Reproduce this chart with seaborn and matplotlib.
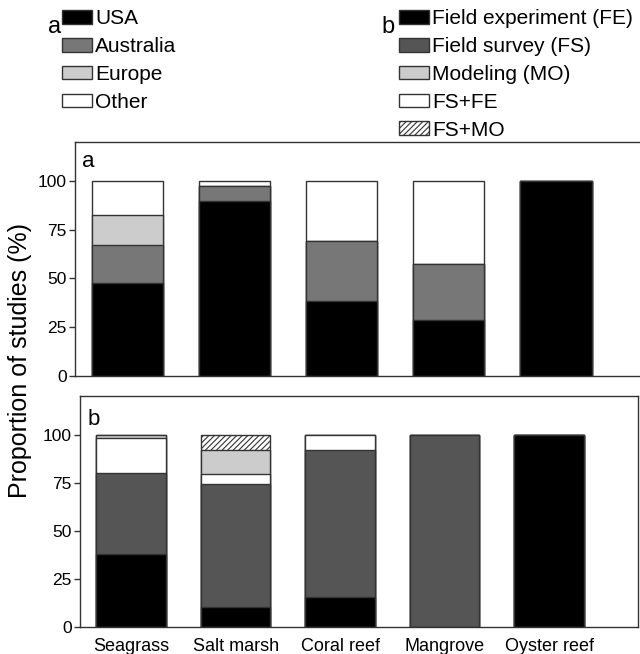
import numpy as np
import pandas as pd
import matplotlib
matplotlib.use("Agg")
import matplotlib.pyplot as plt
import seaborn as sns
from matplotlib.patches import Patch

# ---------------- data ----------------
habitats = ["Seagrass", "Salt marsh", "Coral reef", "Mangrove", "Oyster reef"]

# panel a: study region (%)
region_labels = ["USA", "Australia", "Europe", "Other"]
usa = [47.8, 89.8, 38.5, 28.6, 100.0]
australia = [19.6, 7.4, 30.8, 28.6, 0.0]
europe = [15.2, 0.0, 0.0, 0.0, 0.0]
other = [17.4, 2.8, 30.7, 42.8, 0.0]

# panel b: study type (%)
type_labels = ["Field experiment (FE)", "Field survey (FS)", "Modeling (MO)", "FS+FE", "FS+MO"]
field_exp = [37.8, 10.7, 15.9, 0.0, 100.0]
field_survey = [42.0, 63.4, 76.1, 100.0, 0.0]
fs_fe = [18.5, 5.3, 8.0, 0.0, 0.0]
modeling = [1.7, 12.5, 0.0, 0.0, 0.0]
fs_mo = [0.0, 8.1, 0.0, 0.0, 0.0]

yticks = [0, 25, 50, 75, 100]

# ---------------- style ----------------
sns.set_theme(style="white")
plt.rcParams["font.family"] = ["Liberation Sans", "DejaVu Sans"]
plt.rcParams["text.color"] = "black"
plt.rcParams["axes.labelcolor"] = "black"
plt.rcParams["xtick.color"] = "black"
plt.rcParams["ytick.color"] = "black"
plt.rcParams["hatch.color"] = "black"
plt.rcParams["hatch.linewidth"] = 0.8

EDGE = "#333333"
C_USA, C_AUS, C_EUR, C_OTH = "#000000", "#777777", "#cccccc", "#ffffff"
C_FE, C_FS, C_MO, C_FSFE, C_FSMO = "#000000", "#555555", "#cccccc", "#ffffff", "#ffffff"

fig = plt.figure(figsize=(6.4, 6.54), dpi=100)
ax_a = fig.add_axes([75 / 640, 1 - 376 / 654, 572 / 640, 234 / 654])
ax_b = fig.add_axes([80 / 640, 1 - 627.3 / 654, 558 / 640, 231.3 / 654])


def stacked(ax, segments, colors, hatches):
    cum = np.cumsum(np.array(segments, dtype=float), axis=0)
    for i in range(len(segments) - 1, -1, -1):
        df = pd.DataFrame({"habitat": habitats, "value": cum[i]})
        sns.barplot(data=df, x="habitat", y="value", order=habitats,
                    color=colors[i], saturation=1, width=0.665,
                    edgecolor=EDGE, linewidth=1.0, hatch=hatches[i], ax=ax)


stacked(ax_a, [usa, australia, europe, other],
        [C_USA, C_AUS, C_EUR, C_OTH], [None, None, None, None])
stacked(ax_b, [field_exp, field_survey, fs_fe, modeling, fs_mo],
        [C_FE, C_FS, C_FSFE, C_MO, C_FSMO], [None, None, None, None, "//////"])

for ax in (ax_a, ax_b):
    ax.set_ylim(0, 120)
    ax.set_xlim(-0.49, 4.85)
    ax.set_yticks(yticks)
    ax.set_yticklabels([str(v) for v in yticks], fontsize=12.5, color="black")
    ax.set_xlabel("")
    ax.set_ylabel("")
    ax.tick_params(axis="y", which="major", left=True, direction="out",
                   length=4, width=1, color=EDGE, pad=2)
    ax.tick_params(axis="x", bottom=False, length=0)
    for s in ax.spines.values():
        s.set_color(EDGE)
        s.set_linewidth(1.0)

ax_a.set_xticklabels([])
ax_b.set_xticklabels(habitats, fontsize=13, color="black")
ax_b.tick_params(axis="x", pad=8)

ax_a.text(0.013, 0.893, "a", transform=ax_a.transAxes, fontsize=16, va="baseline")
ax_b.text(0.014, 0.875, "b", transform=ax_b.transAxes, fontsize=16, va="baseline")

fig.text(20 / 640, 1 - 360 / 654, "Proportion of studies (%)", rotation=90,
         ha="center", va="center", fontsize=18)

# ---------------- legends ----------------
leg_kw = dict(loc="upper left", frameon=False, fontsize=15, handlelength=1.45,
              handleheight=0.62, handletextpad=0.15, labelspacing=0.42,
              borderpad=0, borderaxespad=0, labelcolor="black")

h_a = [Patch(facecolor=c, edgecolor=EDGE, linewidth=1) for c in [C_USA, C_AUS, C_EUR, C_OTH]]
fig.legend(h_a, region_labels, bbox_to_anchor=(62 / 640, 1 - 9.5 / 654), **leg_kw)
h_b = [Patch(facecolor=C_FE, edgecolor=EDGE, linewidth=1),
       Patch(facecolor=C_FS, edgecolor=EDGE, linewidth=1),
       Patch(facecolor=C_MO, edgecolor=EDGE, linewidth=1),
       Patch(facecolor=C_FSFE, edgecolor=EDGE, linewidth=1),
       Patch(facecolor=C_FSMO, edgecolor=EDGE, linewidth=1, hatch="//////")]
fig.legend(h_b, type_labels, bbox_to_anchor=(399 / 640, 1 - 9.5 / 654), **leg_kw)

fig.text(55 / 640, 1 - 33 / 654, "a", fontsize=17, ha="center", va="baseline")
fig.text(388 / 640, 1 - 33 / 654, "b", fontsize=17, ha="center", va="baseline")

fig.savefig("out.png", dpi=100)
